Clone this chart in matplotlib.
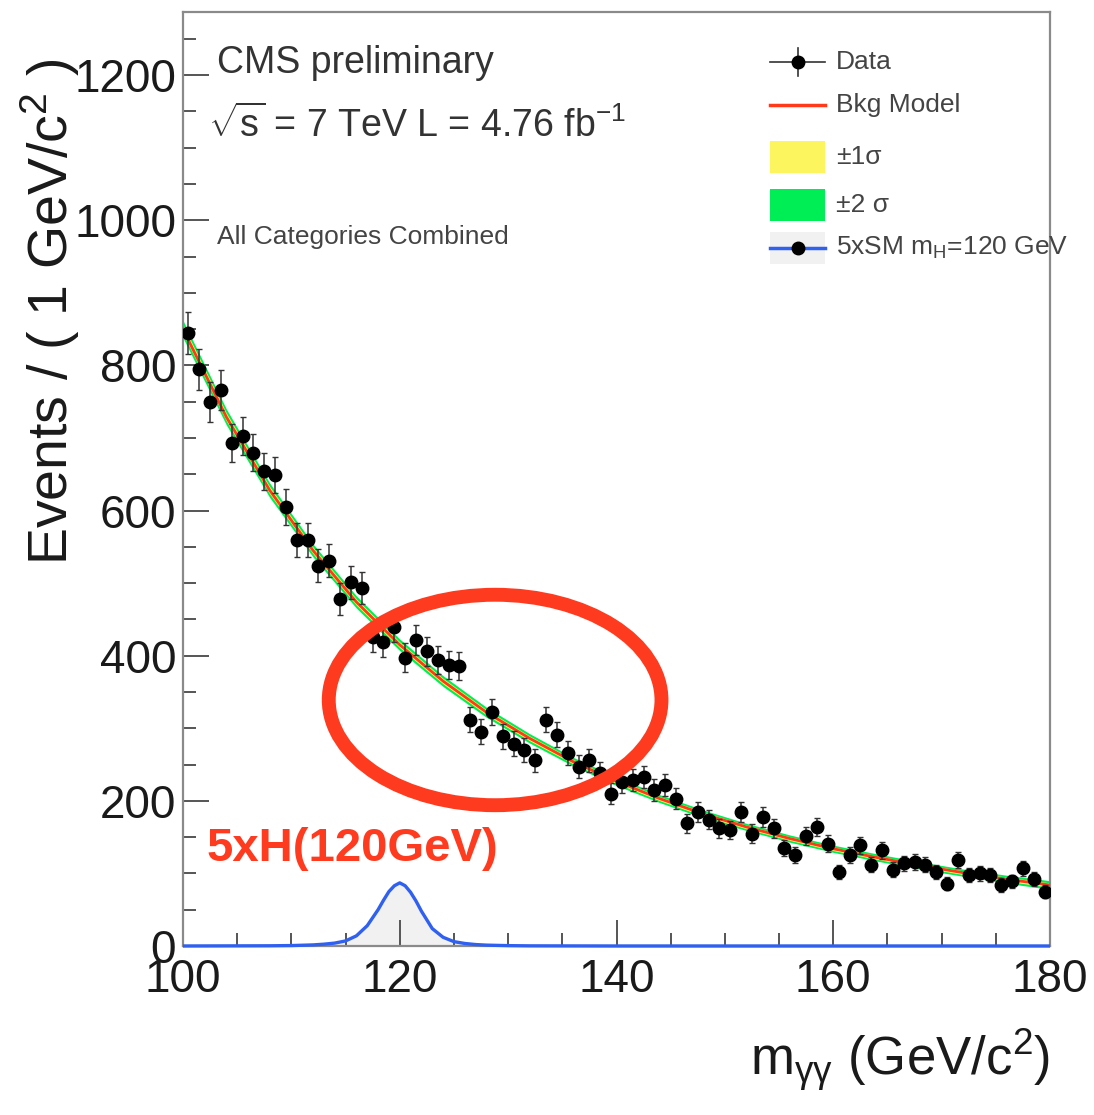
import numpy as np
import matplotlib
matplotlib.use("Agg")
import matplotlib.pyplot as plt
from matplotlib.patches import Ellipse, Rectangle
from matplotlib.lines import Line2D

plt.rcParams['font.family'] = ['Liberation Sans', 'DejaVu Sans']
plt.rcParams['mathtext.fontset'] = 'custom'
plt.rcParams['mathtext.rm'] = 'Liberation Sans'
plt.rcParams['mathtext.it'] = 'Liberation Sans:italic'
plt.rcParams['mathtext.bf'] = 'Liberation Sans:bold'

# ---------------- data ----------------
bin_centers = np.arange(100.5, 180.0, 1.0)
data_counts = [845, 795, 750, 766, 693, 703, 680, 654, 649, 605,
               559, 559, 524, 531, 478, 501, 493, 426, 419, 440,
               397, 422, 406, 394, 387, 386, 312, 295, 323, 289,
               279, 270, 256, 312, 291, 266, 247, 256, 238, 210,
               226, 229, 233, 215, 222, 203, 169, 185, 174, 162,
               160, 185, 155, 178, 162, 135, 125, 151, 164, 141,
               102, 125, 139, 112, 132, 105, 114, 116, 112, 102,
               86, 118, 98, 100, 98, 84, 89, 107, 93, 75]

bkg_x = [100, 104, 108, 112, 116, 120, 124, 128, 132, 136, 140,
         144, 148, 152, 156, 160, 164, 168, 172, 176, 180]
bkg_y = [850, 729, 628, 545, 474, 415, 365, 322, 286, 254, 227,
         203, 182, 164, 148, 134, 122, 111, 101, 92, 84]
sig2_half = [12, 11, 10, 9, 8.5, 8, 7.5, 7, 6.5, 6, 6,
             5.5, 5.5, 5, 5, 5, 5, 5, 5, 5.5, 6]
sig1_half = [6, 5.5, 5, 4.5, 4.3, 4, 3.8, 3.5, 3.3, 3, 3,
             2.8, 2.8, 2.5, 2.5, 2.5, 2.5, 2.5, 2.5, 2.8, 3]

sig_x = [100, 108, 110, 112, 113, 114, 115, 116, 117, 118, 118.5, 119,
         119.5, 120, 120.5, 121, 121.5, 122, 123, 124, 125, 126, 127,
         128, 130, 132, 140, 180]
sig_y = [0, 0.3, 0.6, 1.5, 2.5, 4, 7, 14, 28, 50, 63, 75,
         83, 87, 83, 74, 62, 48, 24, 12, 6, 3.5, 2,
         1.2, 0.5, 0.2, 0, 0]

# ---------------- figure ----------------
W, H = 1094, 1115
fig = plt.figure(figsize=(W / 100, H / 100), dpi=100)
ax = fig.add_axes([183 / W, (H - 946) / H, 867 / W, 934 / H])

ax.fill_between(bkg_x, np.array(bkg_y) - np.array(sig2_half),
                np.array(bkg_y) + np.array(sig2_half), color='#00ee55', lw=0, zorder=2)
ax.fill_between(bkg_x, np.array(bkg_y) - np.array(sig1_half),
                np.array(bkg_y) + np.array(sig1_half), color='#fdf55e', lw=0, zorder=2)
ax.plot(bkg_x, bkg_y, color='#ff3a1a', lw=2.0, zorder=3)

ax.fill_between(sig_x, 0, sig_y, color='#f1f1f1', lw=0, zorder=1)
ax.plot(sig_x, sig_y, color='#3060f0', lw=2.4, zorder=4, clip_on=False,
        solid_capstyle='butt')

ax.errorbar(bin_centers, data_counts, yerr=np.sqrt(data_counts), fmt='o',
            color='black', ms=9, ecolor='#333333', elinewidth=1.1,
            capsize=2, capthick=1.0, zorder=5)

ax.set_xlim(100, 180)
ax.set_ylim(0, 1287)
ax.set_xticks([100, 120, 140, 160, 180])
ax.set_xticks(np.arange(100, 181, 5), minor=True)
ax.set_yticks([0, 200, 400, 600, 800, 1000, 1200])
ax.set_yticks(np.arange(0, 1287, 50), minor=True)
ax.tick_params(which='major', direction='in', length=19, width=1.4,
               color='#555555', labelsize=33, labelcolor='#1a1a1a')
ax.tick_params(which='minor', direction='in', length=9.5, width=1.4,
               color='#555555')
ax.tick_params(axis='x', pad=9)
ax.tick_params(axis='y', pad=5)
for s in ax.spines.values():
    s.set_color('#8a8a8a')
    s.set_linewidth(1.6)

# axis titles
fig.text(1050 / W, (H - 1060) / H, r'm$_{\mathrm{γγ}}$ (GeV/c$^2$)',
         ha='right', va='center', fontsize=38, color='#1a1a1a')
fig.text(50 / W, (H - 565) / H, r'Events / ( 1 GeV/c$^2$ )', rotation=90,
         ha='center', va='bottom', fontsize=40, color='#1a1a1a')

# text annotations
def axpt(px, py):
    return (px - 183) / 867, (946 - py) / 934

ax.text(*axpt(217, 63), 'CMS preliminary', transform=ax.transAxes,
        fontsize=27, color='#333333', va='center', ha='left')
ax.text(*axpt(208, 125), r'$\sqrt{\mathrm{s}}$ = 7 TeV L = 4.76 fb$^{\mathrm{-1}}$',
        transform=ax.transAxes, fontsize=27, color='#333333', va='center', ha='left')
ax.text(*axpt(217, 237), 'All Categories Combined', transform=ax.transAxes,
        fontsize=19, color='#444444', va='center', ha='left')

# legend (manual, ROOT style)
lx0, lx1 = (770 - 183) / 867, (825 - 183) / 867
lxm = (lx0 + lx1) / 2
ltx = (836 - 183) / 867
rows = [62, 105, 157, 205, 248]
ry = [(946 - r) / 934 for r in rows]
ax.add_line(Line2D([lx0, lx1], [ry[0], ry[0]], color='#333333', lw=1.2,
                   transform=ax.transAxes, clip_on=False))
ax.add_line(Line2D([lxm, lxm], [ry[0] - 0.015, ry[0] + 0.015], color='#333333', lw=1.2,
                   transform=ax.transAxes, clip_on=False))
ax.add_line(Line2D([lxm], [ry[0]], marker='o', ms=9, color='black',
                   transform=ax.transAxes, clip_on=False))
ax.add_line(Line2D([lx0, lx1], [ry[1], ry[1]], color='#ff3a1a', lw=2.5,
                   transform=ax.transAxes, clip_on=False))
hh = 32 / 934
ax.add_patch(Rectangle((lx0, ry[2] - hh / 2), lx1 - lx0, hh, color='#fdf55e',
                       transform=ax.transAxes, lw=0))
ax.add_patch(Rectangle((lx0, ry[3] - hh / 2), lx1 - lx0, hh, color='#00ee55',
                       transform=ax.transAxes, lw=0))
ax.add_patch(Rectangle((lx0, ry[4] - hh / 2), lx1 - lx0, hh, color='#f1f1f1',
                       transform=ax.transAxes, lw=0))
ax.add_line(Line2D([lx0, lx1], [ry[4], ry[4]], color='#3060f0', lw=2.5,
                   transform=ax.transAxes, clip_on=False))
ax.add_line(Line2D([lxm], [ry[4]], marker='o', ms=9, color='black',
                   transform=ax.transAxes, clip_on=False))
labels = ['Data', 'Bkg Model', '±1σ', '±2 σ', r'5xSM m$_{\mathrm{H}}$=120 GeV']
for y, lab in zip(ry, labels):
    ax.text(ltx, y, lab, transform=ax.transAxes, fontsize=19, color='#444444',
            va='center', ha='left')

# red highlight ellipse and label
ax.add_patch(Ellipse((128.8, 339), 30.7, 290, fill=False, edgecolor='#fe3b1f',
                     lw=10, zorder=6, clip_on=False))
ax.text(102.2, 133, '5xH(120GeV)', color='#fe3b1f', fontsize=34,
        fontweight='bold', va='center', ha='left', zorder=6)

fig.savefig('out.png', dpi=100)
